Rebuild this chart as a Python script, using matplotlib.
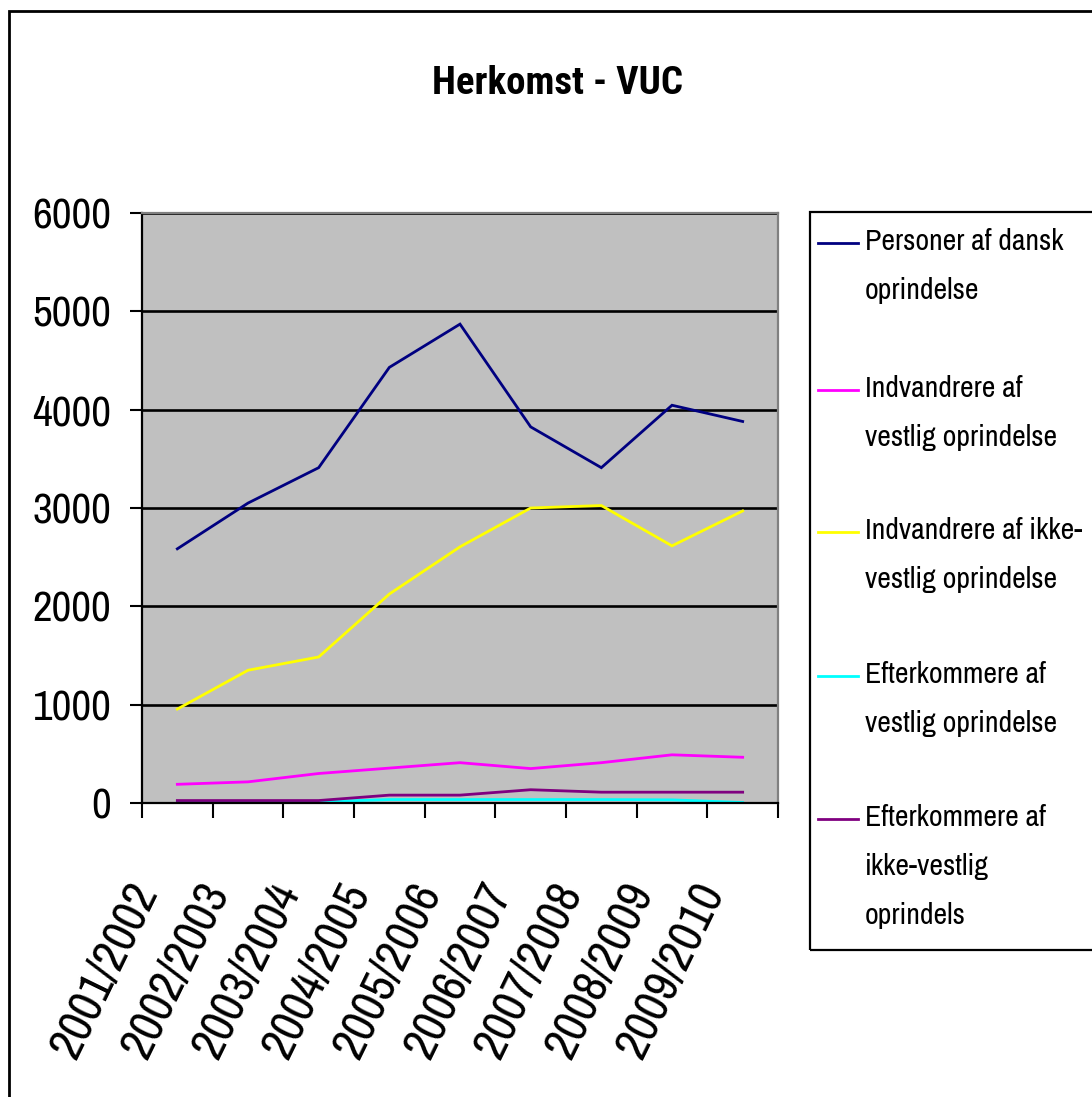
import matplotlib
matplotlib.use('Agg')
import matplotlib.pyplot as plt
from matplotlib import font_manager
from matplotlib.patches import Rectangle
from matplotlib.lines import Line2D
from matplotlib.transforms import ScaledTranslation

# data
years = ['2001/2002', '2002/2003', '2003/2004', '2004/2005', '2005/2006',
         '2006/2007', '2007/2008', '2008/2009', '2009/2010']
dansk = [2585, 3050, 3410, 4430, 4870, 3825, 3410, 4045, 3880]
vest_indv = [190, 215, 300, 355, 410, 350, 410, 490, 465]
ikkevest_indv = [955, 1350, 1485, 2125, 2605, 3000, 3025, 2615, 2970]
vest_efterk = [8, 10, 12, 35, 35, 35, 35, 32, 5]
ikkevest_efterk = [25, 25, 25, 80, 80, 135, 110, 110, 110]

labels = ['Personer af dansk\noprindelse',
          'Indvandrere af\nvestlig oprindelse',
          'Indvandrere af ikke-\nvestlig oprindelse',
          'Efterkommere af\nvestlig oprindelse',
          'Efterkommere af\nikke-vestlig\noprindels']
colors = ['#000080', '#FF00FF', '#FFFF00', '#00FFFF', '#800080']
series = [dansk, vest_indv, ikkevest_indv, vest_efterk, ikkevest_efterk]

# the chart uses a tall narrow sans, pick the nearest one installed
names = set(f.name for f in font_manager.fontManager.ttflist)


def pick(cands):
    for c in cands:
        if c in names:
            return c
    return 'Liberation Sans'


font_reg = pick(['Liberation Sans Narrow', 'Archivo Narrow', 'Roboto Condensed', 'Pragati Narrow'])
font_bold = pick(['Liberation Sans Narrow', 'Roboto Condensed', 'Archivo Narrow', 'Barlow Condensed'])
plt.rcParams['font.family'] = [font_reg, 'DejaVu Sans']

W, H = 1092, 1097
fig = plt.figure(figsize=(W / 100, H / 100), dpi=100)


def px(x, y):
    return x / W, 1 - y / H


ax = fig.add_axes([142 / W, 1 - 803 / H, 636 / W, 590 / H])
ax.set_facecolor('#C0C0C0')

x = list(range(len(years)))
for vals, c in zip(series, colors):
    ax.plot(x, vals, color=c, lw=2.0, solid_joinstyle='miter')

ax.set_xlim(-0.5, len(years) - 0.5)
ax.set_ylim(0, 6000)
ax.set_yticks(range(0, 6001, 1000))
ax.yaxis.grid(True, color='black', lw=1.9)
ax.set_axisbelow(True)

# ticks on category borders, labels under the centres
ax.set_xticks([i - 0.5 for i in range(len(years) + 1)])
ax.set_xticklabels([])
ax.tick_params(axis='x', direction='out', length=11, width=1.5, color='black')
ax.tick_params(axis='y', direction='out', length=9, width=1.5, color='black',
               labelsize=31, pad=13)

for s in ['left', 'bottom']:
    ax.spines[s].set_color('black')
    ax.spines[s].set_linewidth(1.6)
for s in ['top', 'right']:
    ax.spines[s].set_color('#808080')
    ax.spines[s].set_linewidth(1.6)

off = ScaledTranslation(-19 / 100, -88 / 100, fig.dpi_scale_trans)
for i, yr in enumerate(years):
    ax.text(i, 0, yr, transform=ax.get_xaxis_transform() + off,
            rotation=64, rotation_mode='anchor', ha='right', va='baseline',
            fontsize=35)

# title
tx, ty = px(557, 94)
fig.text(tx, ty, 'Herkomst - VUC', ha='center', va='baseline',
         fontsize=28, fontweight='bold', family=[font_bold, 'DejaVu Sans'])

# outer border of the chart area (runs off the picture right and bottom)
bx, by = px(9, 1200)
fig.add_artist(Rectangle((bx, by), 2.0, (1200 - 11) / H, transform=fig.transFigure,
                         fill=False, ec='black', lw=2.0))

# legend box
lx, ly = px(810, 950)
fig.add_artist(Rectangle((lx, ly), (1200 - 810) / W, (950 - 212) / H,
                         transform=fig.transFigure, fill=False, ec='black', lw=1.6))

entry_y = [243, 390, 532, 676, 819]
for lab, c, yy in zip(labels, colors, entry_y):
    x0, y0 = px(818, yy)
    x1, _ = px(858, yy)
    fig.add_artist(Line2D([x0, x1], [y0, y0], color=c, lw=2.0,
                          transform=fig.transFigure))
    tx, ty = px(865, yy - 15)
    fig.text(tx, ty, lab, ha='left', va='top', fontsize=21.5,
             linespacing=2.0)

fig.savefig('out.png', dpi=100)
